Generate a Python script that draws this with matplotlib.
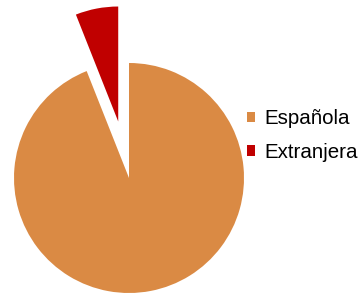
import matplotlib
matplotlib.use("Agg")
import matplotlib.pyplot as plt

# Datos
etiquetas = ["Española", "Extranjera"]
valores = [94, 6]
colores = ["#DA8A44", "#C00000"]
separacion = [0, 0.5]

plt.rcParams["font.family"] = ["Liberation Sans", "DejaVu Sans"]

fig = plt.figure(figsize=(3.59, 2.93), dpi=100)
# ejes colocados para que el radio sea de 115 px
ax = fig.add_axes([14 / 359, 0, 230 / 359, 1])

cunas, _ = ax.pie(valores, colors=colores, explode=separacion,
                  startangle=90, counterclock=False)
ax.set_aspect("auto")
ax.set_xlim(-1, 1)
ax.set_ylim(-1, 293 / 115 - 1)
ax.axis("off")

fig.legend(cunas, etiquetas, loc="center left",
           bbox_to_anchor=(247 / 359, 0.537), frameon=False,
           fontsize=14.8, handlelength=0.38, handleheight=0.38,
           handletextpad=0.45, labelspacing=0.7,
           borderpad=0, borderaxespad=0)

fig.savefig("out.png", dpi=100)
